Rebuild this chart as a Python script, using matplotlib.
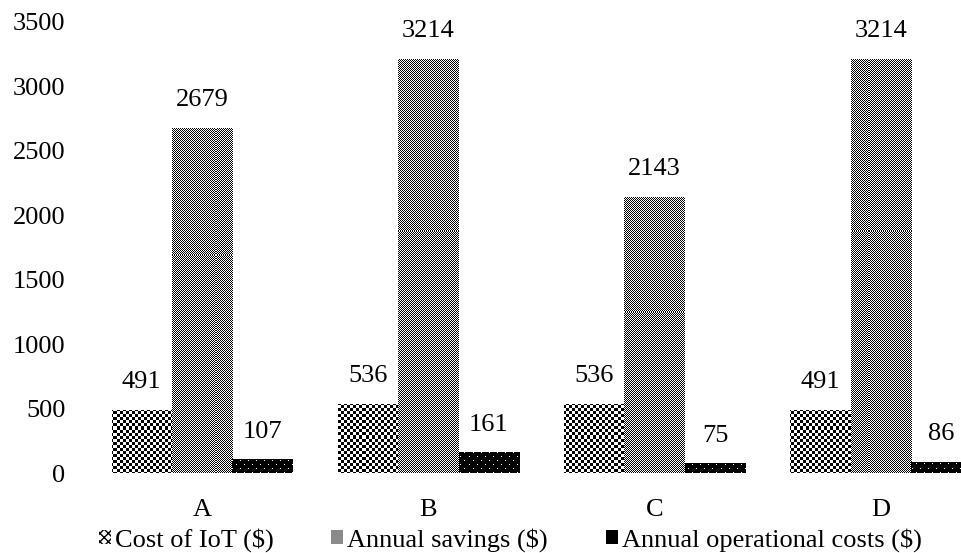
import numpy as np
import matplotlib
matplotlib.use("Agg")
import matplotlib.pyplot as plt
from matplotlib.patches import Patch

plt.rcParams['font.family'] = ['Liberation Serif', 'DejaVu Serif']
plt.rcParams['font.size'] = 19

# data
groups = ['A', 'B', 'C', 'D']
cost_iot = [491, 536, 536, 491]
annual_savings = [2679, 3214, 2143, 3214]
annual_ops = [107, 161, 75, 86]
series_names = ['Cost of IoT ($)', 'Annual savings ($)', 'Annual operational costs ($)']

W, H = 962, 553
fig = plt.figure(figsize=(W / 100, H / 100), dpi=100)
ax_l, ax_b, ax_w, ax_h = 89, 80, 905, 451
ax = fig.add_axes([ax_l / W, ax_b / H, ax_w / W, ax_h / H])

xlim = (-0.5, 3.5)
ylim = (0, 3500)


# pixel patterns (1 = white, 0 = black)
yy, xx = np.mgrid[0:ax_h, 0:ax_w]
coarse = (((xx // 3) + (yy // 3)) % 2).astype(float)
fine = ((xx + yy) % 2).astype(float)
dots = np.zeros((ax_h, ax_w))
dots[((yy % 8) == 2) & ((xx % 8) == 3)] = 1
dots[((yy % 8) == 6) & ((xx % 8) == 7)] = 1
patterns = [coarse, fine, dots]

x = np.arange(len(groups))
bw = 0.267
for i, vals in enumerate([cost_iot, annual_savings, annual_ops]):
    bars = ax.bar(x + (i - 1) * bw, vals, bw, color='none', edgecolor='none')
    for b, v in zip(bars, vals):
        im = ax.imshow(patterns[i], extent=(xlim[0], xlim[1], ylim[0], ylim[1]),
                       cmap='gray', vmin=0, vmax=1, aspect='auto',
                       interpolation='nearest', origin='upper', zorder=2)
        im.set_clip_path(b)
        ax.annotate(str(v), (b.get_x() + bw / 2, v), xytext=(0, 12),
                    textcoords='offset points', ha='center', va='bottom')

ax.set_xlim(xlim)
ax.set_ylim(ylim)
ax.set_xticks(x)
ax.set_xticklabels(groups)
ax.set_yticks(np.arange(0, 3501, 500))
ax.tick_params(length=0)
ax.tick_params(axis='y', pad=17)
ax.tick_params(axis='x', pad=19)
for s in ax.spines.values():
    s.set_visible(False)

# legend items placed one by one
handles = [Patch(facecolor='white', edgecolor='black', hatch='xxxx', linewidth=0),
           Patch(facecolor='#8a8a8a', edgecolor='none'),
           Patch(facecolor='black', edgecolor='none')]
starts = [99, 331, 606]
for h, name, sx in zip(handles, series_names, starts):
    fig.legend([h], [name], loc='center left', bbox_to_anchor=(sx / W, 13 / H),
               frameon=False, handlelength=0.45, handleheight=0.45,
               handletextpad=0.15, borderpad=0, borderaxespad=0)

fig.savefig('out.png', dpi=100)
